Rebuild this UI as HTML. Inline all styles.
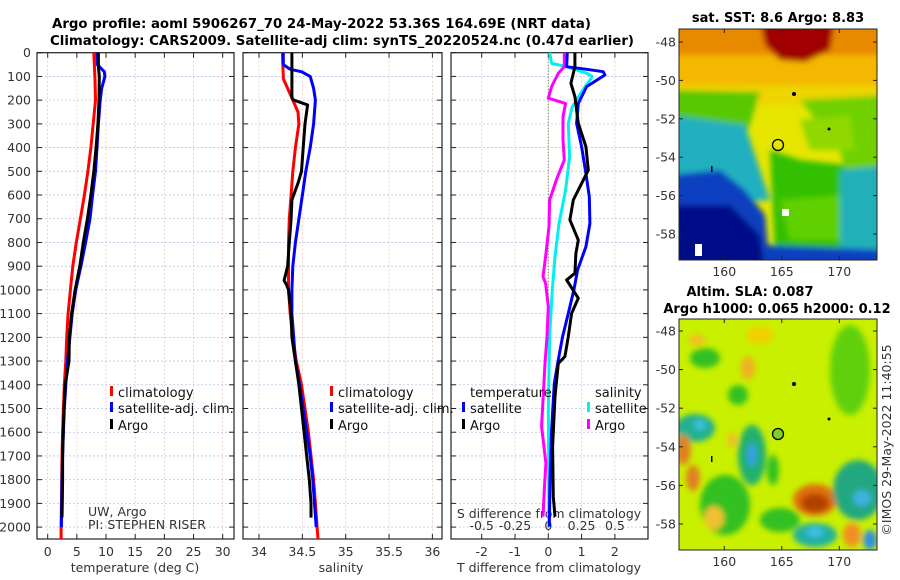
<!DOCTYPE html>
<html><head><meta charset="utf-8"><style>
html,body{margin:0;padding:0;background:#fff;}
svg{display:block;font-family:"DejaVu Sans","Liberation Sans",sans-serif;}
.tk{font-size:12.5px;fill:#333;}
</style></head><body>
<svg id="chart" width="900" height="580" viewBox="0 0 900 580" xmlns="http://www.w3.org/2000/svg">
<defs>
<filter id="bl" x="-20%" y="-20%" width="140%" height="140%"><feGaussianBlur stdDeviation="3"/></filter>
<clipPath id="m1c"><rect x="679" y="29" width="198" height="231"/></clipPath>
<clipPath id="m2c"><rect x="679" y="319" width="198" height="231"/></clipPath>
<clipPath id="p1c"><rect x="37" y="52" width="197" height="487"/></clipPath>
<clipPath id="p2c"><rect x="243" y="52" width="199" height="487"/></clipPath>
<clipPath id="p3c"><rect x="451" y="52" width="197" height="487"/></clipPath>
</defs>
<text x="52" y="28" font-size="13" font-weight="bold" textLength="539" lengthAdjust="spacingAndGlyphs">Argo profile: aoml 5906267_70 24-May-2022 53.36S 164.69E (NRT data)</text>
<text x="50" y="45" font-size="13" font-weight="bold" textLength="584" lengthAdjust="spacingAndGlyphs">Climatology: CARS2009. Satellite-adj clim: synTS_20220524.nc (0.47d earlier)</text>

<!-- SST map -->
<g clip-path="url(#m1c)">
<rect x="679" y="29" width="198" height="231" fill="#e6e600"/>
<g filter="url(#bl)">
<rect x="670" y="20" width="220" height="45" fill="#e88a00"/>
<rect x="670" y="55" width="220" height="35" fill="#f4b800"/>
<rect x="670" y="85" width="220" height="20" fill="#eed400"/>
<polygon points="760,20 835,20 830,50 805,62 780,60 765,45" fill="#a00000"/>
<polygon points="670,90 760,92 745,140 690,150 670,150" fill="#58c800"/>
<polygon points="800,100 890,95 890,180 850,190 840,150" fill="#70d000"/>
<polygon points="670,115 745,125 760,170 770,200 670,205" fill="#20b0c0"/>
<polygon points="670,175 720,170 745,190 765,215 770,270 670,270" fill="#1040c0"/>
<polygon points="670,205 730,205 760,235 765,270 670,270" fill="#000c88"/>
<polygon points="770,150 800,160 845,165 845,250 775,255" fill="#30c000"/>
<polygon points="780,200 840,195 845,240 790,240" fill="#60d000"/>
<polygon points="840,170 890,165 890,270 840,260" fill="#20b0b8"/>
<polygon points="765,245 890,250 890,270 765,270" fill="#1040c0"/>
<polygon points="800,120 850,115 855,150 810,150" fill="#90d800"/>
</g>
<rect x="782" y="209" width="7" height="7" fill="#fff"/>
<rect x="695" y="244" width="7" height="12" fill="#fff"/>
<circle cx="778" cy="145" r="5.5" fill="none" stroke="#000" stroke-width="1.3"/>
<circle cx="794" cy="94" r="2" fill="#000"/>
<circle cx="829" cy="129" r="1.5" fill="#000"/>
<rect x="711" y="166" width="1.5" height="6" fill="#000"/>
</g>
<rect x="679" y="29" width="198" height="231" fill="none" stroke="#222" stroke-width="1"/>
<text x="778" y="22" font-size="13" font-weight="bold" text-anchor="middle">sat. SST: 8.6 Argo: 8.83</text>

<!-- SLA map -->
<g clip-path="url(#m2c)">
<rect x="679" y="319" width="198" height="231" fill="#c8f000"/>
<g filter="url(#bl)">
<ellipse cx="705" cy="358" rx="15" ry="10" fill="#30c020"/>
<ellipse cx="748" cy="368" rx="7" ry="12" fill="#f0b020"/>
<ellipse cx="738" cy="395" rx="10" ry="10" fill="#30c020"/>
<ellipse cx="695" cy="428" rx="20" ry="14" fill="#20b090"/>
<ellipse cx="700" cy="425" rx="6" ry="5" fill="#40c0e0"/>
<ellipse cx="752" cy="455" rx="14" ry="30" fill="#20b070"/>
<ellipse cx="752" cy="455" rx="5" ry="12" fill="#30a0e0"/>
<ellipse cx="683" cy="450" rx="8" ry="15" fill="#e08020"/>
<ellipse cx="693" cy="478" rx="7" ry="13" fill="#e08020"/>
<ellipse cx="725" cy="505" rx="25" ry="30" fill="#30c020"/>
<ellipse cx="714" cy="518" rx="10" ry="12" fill="#f0c030"/>
<ellipse cx="773" cy="470" rx="6" ry="15" fill="#30c020"/>
<ellipse cx="780" cy="520" rx="20" ry="12" fill="#30c020"/>
<ellipse cx="815" cy="500" rx="22" ry="16" fill="#e07010"/>
<ellipse cx="815" cy="503" rx="14" ry="9" fill="#b04000"/>
<ellipse cx="858" cy="490" rx="25" ry="30" fill="#20a880"/>
<ellipse cx="862" cy="498" rx="9" ry="8" fill="#40b0e0"/>
<ellipse cx="815" cy="535" rx="22" ry="12" fill="#20b0a0"/>
<ellipse cx="815" cy="532" rx="8" ry="5" fill="#40c0f0"/>
<ellipse cx="852" cy="535" rx="9" ry="12" fill="#f09020"/>
<ellipse cx="870" cy="540" rx="7" ry="10" fill="#3090e0"/>
<ellipse cx="850" cy="370" rx="20" ry="45" fill="#60d010"/>
<ellipse cx="760" cy="335" rx="14" ry="9" fill="#f0d000"/>
<ellipse cx="697" cy="340" rx="8" ry="6" fill="#f0c020"/>
<ellipse cx="732" cy="440" rx="5" ry="8" fill="#f0c020"/>
</g>
<circle cx="778" cy="434" r="5.5" fill="#80d020" stroke="#000" stroke-width="1.3"/>
<circle cx="794" cy="384" r="2" fill="#000"/>
<circle cx="829" cy="419" r="1.5" fill="#000"/>
<rect x="711" y="456" width="1.5" height="6" fill="#000"/>
</g>
<rect x="679" y="319" width="198" height="231" fill="none" stroke="#222" stroke-width="1"/>
<text x="750" y="296" font-size="13" font-weight="bold" text-anchor="middle">Altim. SLA: 0.087</text>
<text x="777" y="313" font-size="13" font-weight="bold" text-anchor="middle">Argo h1000: 0.065 h2000: 0.12</text>
<text transform="translate(891,440) rotate(-90)" font-size="12.5" text-anchor="middle" fill="#333">©IMOS 29-May-2022 11:40:55</text>

<g id="axes"></g>
<g id="marks"></g>
<g id="legends"></g>
</svg>
<script>
// ---- data ----
const depthGrid = [0,100,200,300,400,500,600,700,800,900,1000,1100,1200,1300,1400,1500,1600,1700,1800,1900,2000,2050];
const tempClim  = [7.9,8.1,8.2,7.8,7.4,6.9,6.3,5.6,4.9,4.3,3.9,3.5,3.25,3.1,2.85,2.7,2.55,2.45,2.4,2.35,2.3,2.3];
const depthSat  = [0,50,80,100,150,200,300,400,500,600,700,800,900,1000,1100,1200,1300,1400,1500,1600,1700,1800,1900,2000];
const tempSat   = [8.45,8.5,9.7,9.8,9.25,9.0,8.7,8.45,8.2,7.7,7.25,6.5,5.7,4.8,4.2,3.8,3.4,3.1,2.85,2.7,2.55,2.45,2.4,2.35];
const depthArgo = [0,60,100,200,300,400,500,600,700,800,900,1000,1100,1200,1300,1400,1500,1600,1700,1800,1900,1960];
const tempArgo  = [8.7,8.7,8.85,8.8,8.6,8.3,7.9,7.4,6.8,6.1,5.5,4.7,4.1,3.7,3.65,3.0,2.8,2.65,2.55,2.55,2.5,2.45];
const depthSalClim = [0,100,110,150,200,250,300,400,500,600,700,800,900,1000,1100,1200,1300,1400,1500,1600,1700,1800,1900,2000,2050];
const salClim   = [34.27,34.28,34.28,34.33,34.39,34.45,34.46,34.42,34.39,34.37,34.35,34.34,34.34,34.34,34.36,34.39,34.43,34.49,34.53,34.57,34.60,34.63,34.65,34.67,34.68];
const depthSalSat = [0,50,70,80,100,150,200,300,400,500,600,700,800,900,1000,1100,1200,1300,1400,1500,1600,1700,1800,1900,2000];
const salSat    = [34.28,34.28,34.36,34.49,34.59,34.63,34.65,34.63,34.59,34.54,34.50,34.46,34.42,34.39,34.38,34.38,34.40,34.42,34.47,34.51,34.55,34.59,34.62,34.64,34.66];
const depthSalArgo = [0,100,190,200,220,300,400,500,550,620,700,800,900,930,960,980,1000,1100,1200,1300,1400,1500,1600,1700,1800,1900,1960];
const salArgo   = [34.38,34.38,34.38,34.40,34.56,34.53,34.51,34.49,34.45,34.38,34.37,34.35,34.33,34.31,34.29,34.32,34.34,34.37,34.38,34.42,34.46,34.49,34.52,34.55,34.58,34.60,34.60];
const depthDTSat = [0,59,70,80,94,143,214,298,396,509,607,720,818,916,1000,1099,1197,1295,1394,1590,1801,1998];
const dTSat      = [0.57,0.55,1.15,1.65,1.7,1.15,0.9,0.85,1.0,1.13,1.23,1.25,1.13,0.88,0.77,0.6,0.43,0.3,0.18,0.1,0.05,0.03];
const depthDTArgo = [0,59,87,129,185,298,396,495,537,621,705,790,846,930,958,1035,1099,1197,1281,1310,1450,1661,1872,1956];
const dTArgo      = [0.8,0.8,0.75,0.68,0.8,0.9,1.13,1.2,1.05,0.75,0.65,0.9,0.83,0.8,0.55,0.9,0.7,0.6,0.5,0.3,0.2,0.13,0.15,0.2];
const depthDSSat = [0,45,59,87,101,157,228,298,438,579,720,860,1000,1197,1500,2000];
const dSSat      = [0.01,0.025,0.14,0.29,0.33,0.26,0.18,0.15,0.16,0.13,0.08,0.05,0.03,0.01,0.0,0.005];
const depthDSArgo = [0,59,87,143,192,214,270,368,452,537,621,733,860,944,972,1071,1197,1310,1576,1731,1843,1956];
const dSArgo      = [0.12,0.12,0.075,0.025,0.0,0.13,0.11,0.11,0.12,0.06,0.01,0.005,-0.02,-0.04,-0.02,0.0,-0.01,-0.025,-0.05,-0.018,-0.03,-0.04];
const depthTicks = [0,100,200,300,400,500,600,700,800,900,1000,1100,1200,1300,1400,1500,1600,1700,1800,1900,2000];
const tempTicks = [0,5,10,15,20,25,30];
const salTicks = [34,34.5,35,35.5,36];
const salTickLabels = ["34","34.5","35","35.5","36"];
const dTTicks = [-2,-1,0,1,2];
const dSTicks = [-0.5,-0.25,0,0.25,0.5];
const dSTickLabels = ["-0.5","-0.25","0","0.25","0.5"];
const latTicks = [-48,-50,-52,-54,-56,-58];
const lonTicks = [160,165,170];

// ---- scales ----
const yD = d => 52.7 + d*0.2372;
const xT = t => 47.7 + t*5.833;
const xS = s => 259 + (s-34)*86.7;
const xDT = t => 548.3 + t*33.3;
const xDS = s => 548.3 + s*133.2;
const yLat1 = l => 42 + (-48-l)*19.2;
const yLat2 = l => 331 + (-48-l)*19.3;
const xLon = l => 724.3 + (l-160)*11.5;

const NS="http://www.w3.org/2000/svg";
function mk(tag, attrs, parent){const e=document.createElementNS(NS,tag);for(const k in attrs)e.setAttribute(k,attrs[k]);parent.appendChild(e);return e;}
const axes=document.getElementById('axes'), marks=document.getElementById('marks'), legends=document.getElementById('legends');

const panels=[{x0:37,x1:234,name:'temperature-panel'},{x0:243,x1:442,name:'salinity-panel'},{x0:451,x1:648,name:'difference-panel'}];
const yTop=52.7, yBot=539;
panels.forEach((p,i)=>{
  const g=mk('g',{},axes);
  
  
  depthTicks.forEach(d=>{
    const y=yD(d);
    const gl=mk('line',{x1:p.x0,x2:p.x1,y1:y,y2:y,stroke:'#b8c4e8','stroke-width':0.8,'stroke-dasharray':'2,2'},g);
    
    
    mk('line',{x1:p.x0,x2:p.x0+5,y1:y,y2:y,stroke:'#222'},g);
    mk('line',{x1:p.x1-5,x2:p.x1,y1:y,y2:y,stroke:'#222'},g);
    if(i===0){
      const t=mk('text',{x:31,y:y+4.5,'text-anchor':'end','class':'tk'},g);
      t.textContent=d;
      
      
    }
  });
  const xs = i===0? tempTicks.map(xT) : i===1? salTicks.map(xS) : dTTicks.map(xDT);
  const labs = i===0? tempTicks.map(String) : i===1? salTickLabels : dTTicks.map(String);
  xs.forEach((x,k)=>{
    const gl=mk('line',{x1:x,x2:x,y1:yTop,y2:yBot,stroke:'#e8c8b8','stroke-width':0.8,'stroke-dasharray':'2,2'},g);
    
    
    mk('line',{x1:x,x2:x,y1:yTop,y2:yTop+5,stroke:'#222'},g);
    mk('line',{x1:x,x2:x,y1:yBot-5,y2:yBot,stroke:'#222'},g);
    const t=mk('text',{x:x,y:556,'text-anchor':'middle','class':'tk'},g);
    t.textContent=labs[k];
    
    
  });
  const fr=mk('rect',{x:p.x0,y:yTop,width:p.x1-p.x0,height:yBot-yTop,fill:'none',stroke:'#222','stroke-width':1.2},g);
  
  
});
// S difference ticks
dSTicks.forEach((s,k)=>{
  const t=mk('text',{x:xDS(s),y:530,'text-anchor':'middle','class':'tk'},axes);
  t.textContent=dSTickLabels[k];
  
  
});
function lbl(txt,x,y,name,extra){const t=mk('text',Object.assign({x:x,y:y,'class':'tk','font-size':13},extra||{}),axes);t.textContent=txt;return t;}
lbl('temperature (deg C)',135,572,'x-axis-title-temperature',{'text-anchor':'middle'});
lbl('salinity',341,572,'x-axis-title-salinity',{'text-anchor':'middle'});
lbl('T difference from climatology',549,572,'x-axis-title-t-diff',{'text-anchor':'middle'});
lbl('S difference from climatology',549,518,'s-diff-axis-title',{'text-anchor':'middle'});
lbl('UW, Argo',88,516,'institution-label',{'font-size':10.5});
lbl('PI: STEPHEN RISER',88,529,'pi-label',{'font-size':10.5});
// zero line in diff panel
const zl=mk('line',{x1:xDT(0),x2:xDT(0),y1:yTop,y2:yBot,stroke:'#4a6a3a','stroke-width':1,'stroke-dasharray':'1,2'},axes);



// map ticks
latTicks.forEach(l=>{
  [[yLat1,'sst'],[yLat2,'sla']].forEach(([f,n])=>{
    const y=f(l);
    mk('line',{x1:679,x2:683,y1:y,y2:y,stroke:'#222'},axes);
    mk('line',{x1:873,x2:877,y1:y,y2:y,stroke:'#222'},axes);
    const t=mk('text',{x:676,y:y+4.5,'text-anchor':'end','class':'tk'},axes);
    t.textContent=l;
    
    
  });
});
lonTicks.forEach(l=>{
  [[260,'sst'],[550,'sla']].forEach(([yb,n])=>{
    const x=xLon(l);
    mk('line',{x1:x,x2:x,y1:yb-4,y2:yb,stroke:'#222'},axes);
    mk('line',{x1:x,x2:x,y1:yb-231,y2:yb-227,stroke:'#222'},axes);
    const t=mk('text',{x:x,y:yb+16,'text-anchor':'middle','class':'tk'},axes);
    t.textContent=l;
    
    
  });
});

// ---- series ----
function series(xs,ds,sx,color,clip){
  const pts=xs.map((v,k)=>sx(v).toFixed(1)+','+yD(ds[k]).toFixed(1)).join(' ');
  return mk('polyline',{points:pts,fill:'none',stroke:color,'stroke-width':3,'stroke-linejoin':'round','clip-path':'url(#'+clip+')'},marks);
}
let e;
e=series(tempClim,depthGrid,xT,'#ff0000','p1c');


e=series(tempSat,depthSat,xT,'#0000ff','p1c');


e=series(tempArgo,depthArgo,xT,'#000000','p1c');


e=series(salClim,depthSalClim,xS,'#ff0000','p2c');


e=series(salSat,depthSalSat,xS,'#0000ff','p2c');


e=series(salArgo,depthSalArgo,xS,'#000000','p2c');


e=series(dSSat,depthDSSat,xDS,'#00f0f0','p3c');


e=series(dSArgo,depthDSArgo,xDS,'#ff00ff','p3c');


e=series(dTSat,depthDTSat,xDT,'#0000ff','p3c');


e=series(dTArgo,depthDTArgo,xDT,'#000000','p3c');



// ---- legends ----
function entry(mx,tx,y,color,txt,name){
  const g=mk('g',{},legends);
  
  
  if(color) mk('rect',{x:mx,y:y-11,width:3,height:10,fill:color},g);
  const t=mk('text',{x:tx,y:y,'font-size':13,fill:'#111'},g);
  t.textContent=txt;
}
entry(110,118,397,'#ff0000','climatology','legend-entry-climatology');
entry(110,118,413,'#0000ff','satellite-adj. clim.','legend-entry-satellite-adj');
entry(110,118,430,'#000000','Argo','legend-entry-argo');
entry(330,338,397,'#ff0000','climatology','legend-entry-sal-climatology');
entry(330,338,413,'#0000ff','satellite-adj. clim.','legend-entry-sal-satellite-adj');
entry(330,338,430,'#000000','Argo','legend-entry-sal-argo');
entry(0,470,397,null,'temperature','legend-header-temperature');
entry(462,470,413,'#0000ff','satellite','legend-entry-t-satellite');
entry(462,470,430,'#000000','Argo','legend-entry-t-argo');
entry(0,595,397,null,'salinity','legend-header-salinity');
entry(587,595,413,'#00f0f0','satellite','legend-entry-s-satellite');
entry(587,595,430,'#ff00ff','Argo','legend-entry-s-argo');
</script>
</body></html>
